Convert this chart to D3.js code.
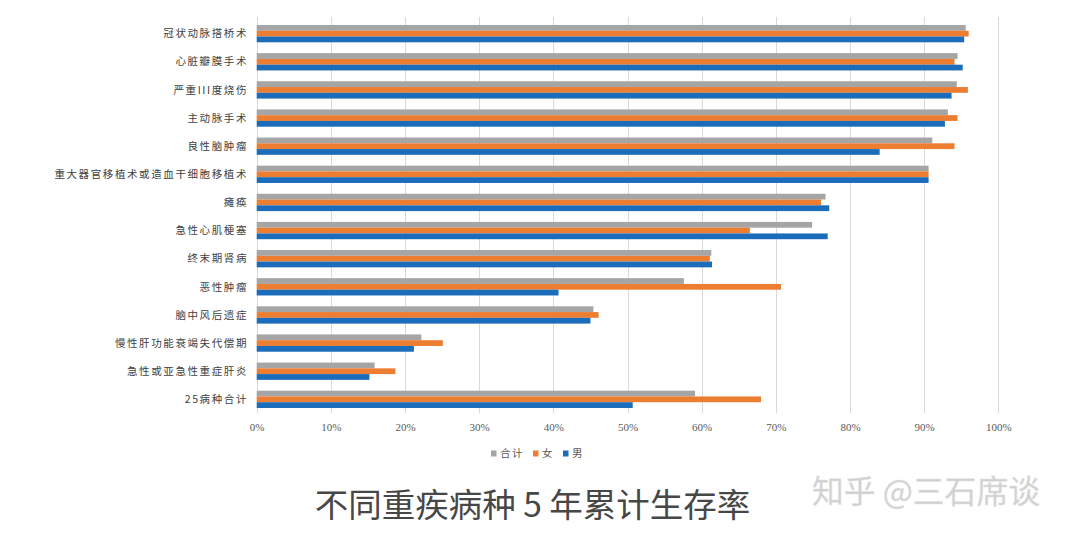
<!DOCTYPE html>
<html><head><meta charset="utf-8">
<script src="https://cdnjs.cloudflare.com/ajax/libs/d3/7.8.5/d3.min.js"></script>
<style>html,body{margin:0;padding:0;background:#fff;}svg{display:block;}</style>
</head><body><div id="chart"></div>
<script>
const categories = ["冠状动脉搭桥术","心脏瓣膜手术","严重III度烧伤","主动脉手术","良性脑肿瘤","重大器官移植术或造血干细胞移植术","瘫痪","急性心肌梗塞","终末期肾病","恶性肿瘤","脑中风后遗症","慢性肝功能衰竭失代偿期","急性或亚急性重症肝炎","25病种合计"];
const seriesNames = ["合计","女","男"];
const totalValues = [95.6,94.5,94.4,93.2,91.1,90.6,76.7,74.9,61.3,57.6,45.4,22.2,15.9,59.1];
const femaleValues = [96.0,94.1,95.9,94.5,94.1,90.6,76.1,66.5,61.1,70.7,46.1,25.1,18.7,68.0];
const maleValues = [95.4,95.2,93.7,92.8,84.0,90.6,77.2,77.0,61.4,40.7,45.0,21.2,15.2,50.7];
const xTicks = [0,10,20,30,40,50,60,70,80,90,100];
const colors = ["#a5a5a5","#ed7d31","#1b6cbb"];
const title = "不同重疾病种 5 年累计生存率";
const watermark = "知乎 @三石席谈";

const W=1069,H=539;
const svg=d3.select("#chart").append("svg").attr("width",W).attr("height",H);
const x=d3.scaleLinear().domain([0,100]).range([256.7,998.3]);
const y=d3.scaleBand().domain(categories).range([19.6,413.4]).paddingInner(0.385).paddingOuter(0.1925);
const ys=d3.scaleBand().domain(seriesNames).range([0,y.bandwidth()]);
const values=[totalValues,femaleValues,maleValues];

// gridlines
svg.append("g").selectAll("line").data(xTicks).join("line")
  .attr("x1",d=>Math.round(x(d))+0.5).attr("x2",d=>Math.round(x(d))+0.5)
  .attr("y1",17).attr("y2",413).attr("stroke","#d9d9d9").attr("stroke-width",1);

// bars
seriesNames.forEach((s,si)=>{
  svg.append("g").selectAll("rect").data(categories).join("rect")
    .attr("x",x(0)).attr("y",(c)=>y(c)+ys(s))
    .attr("width",(c,i)=>x(values[si][i])-x(0)).attr("height",ys.bandwidth())
    .attr("fill",colors[si]);
});

// category labels
const yAxis=d3.axisLeft(y).tickSize(0).tickPadding(0);
const ga=svg.append("g").attr("transform","translate(248,0)").call(yAxis);
ga.select(".domain").remove();
ga.selectAll("text").attr("font-family","'Noto Sans CJK SC',sans-serif").attr("font-size","10.5px")
  .attr("fill","#404040").style("letter-spacing","1.6px").attr("dy","0.35em");

// x tick labels
const xAxis=d3.axisBottom(x).tickValues(xTicks).tickFormat(d=>d+"%").tickSize(0).tickPadding(0);
const gx=svg.append("g").attr("transform","translate(0,423)").call(xAxis);
gx.select(".domain").remove();
gx.selectAll("text").attr("font-family","'Liberation Serif',serif").attr("font-size","11px").attr("fill","#595959");

// legend
const legendX=[491,533,563];
const lg=svg.append("g");
seriesNames.forEach((s,i)=>{
  lg.append("rect").attr("x",legendX[i]).attr("y",450.5).attr("width",5.5).attr("height",6).attr("fill",colors[i]);
  lg.append("text").attr("x",legendX[i]+9).attr("y",453.5).attr("dy","0.35em")
    .attr("font-family","'Noto Sans CJK SC',sans-serif").attr("font-size","10.5px").attr("fill","#595959")
    .style("letter-spacing","1.5px").text(s);
});

// title
svg.append("text").attr("x",532.5).attr("y",505).attr("dy","0.35em").attr("text-anchor","middle")
  .attr("font-family","'Noto Sans CJK SC',sans-serif").attr("font-size","33.5px").attr("fill","#474747").text(title);
// watermark
svg.append("text").attr("x",926).attr("y",492).attr("dy","0.35em").attr("text-anchor","middle")
  .attr("font-family","'Noto Sans CJK SC',sans-serif").attr("font-size","31.8px").attr("fill","#cfcfcf")
  .attr("stroke","#e6e6e6").attr("stroke-width",0.5).text(watermark);
</script></body></html>
